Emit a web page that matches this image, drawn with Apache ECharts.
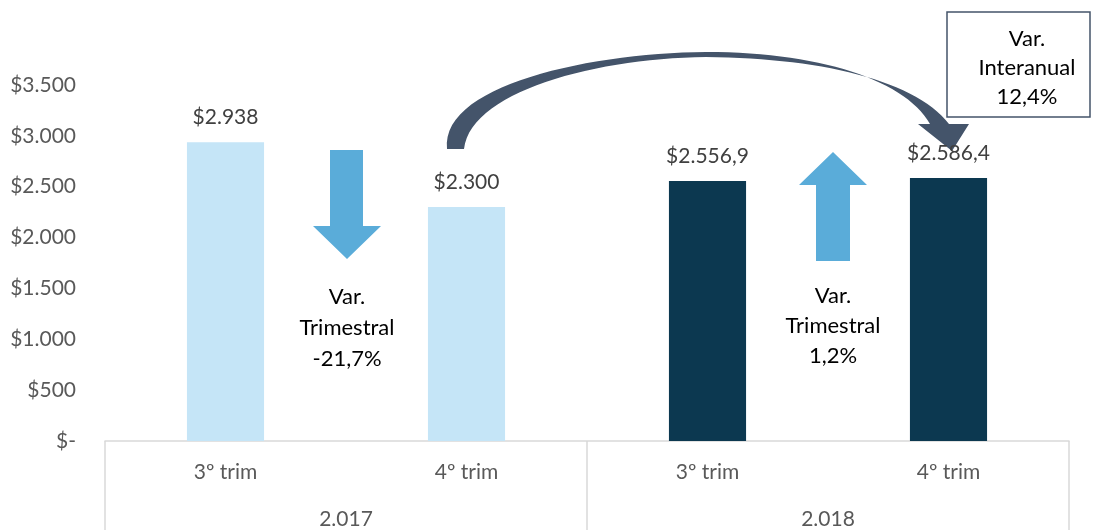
<!DOCTYPE html>
<html>
<head>
<meta charset="utf-8">
<script src="https://cdn.jsdelivr.net/npm/echarts@6/dist/echarts.min.js"></script>
<style>html,body{margin:0;padding:0;background:#fff;}#c{width:1093px;height:530px;}</style>
</head>
<body>
<div id="c"></div>
<script>
var quarters = ['3º trim', '4º trim', '3º trim', '4º trim'];
var years = ['2.017', '2.018'];
var values = [2938, 2300, 2556.9, 2586.4];
var barColors = ['#C5E5F7', '#C5E5F7', '#0C3850', '#0C3850'];

var FONT = 'Lato';
function fmtThousands(v) {
  var neg = v < 0; v = Math.abs(v);
  var intPart = Math.floor(v);
  var dec = Math.round((v - intPart) * 10);
  var s = String(intPart).replace(/\B(?=(\d{3})+(?!\d))/g, '.');
  if (dec) s += ',' + dec;
  return (neg ? '-' : '') + s;
}
function cubic(p0, p1, p2, p3, n) {
  var pts = [];
  for (var i = 0; i <= n; i++) {
    var t = i / n, u = 1 - t;
    pts.push([u*u*u*p0[0] + 3*u*u*t*p1[0] + 3*u*t*t*p2[0] + t*t*t*p3[0],
              u*u*u*p0[1] + 3*u*u*t*p1[1] + 3*u*t*t*p2[1] + t*t*t*p3[1]]);
  }
  return pts;
}
var curvePts = []
  .concat(cubic([447,149],[440,85],[590,53],[706,52], 30))
  .concat(cubic([706,52],[820,52],[905,80],[930,124], 30))
  .concat([[918,124],[952,151],[969,124],[949,124]])
  .concat(cubic([949,124],[915,80],[820,58],[706,57], 30))
  .concat(cubic([706,57],[595,58],[470,92],[464,149], 30));

var chart = echarts.init(document.getElementById('c'), null, {renderer: 'canvas'});
var option = {
  animation: false,
  grid: {left: 105, right: 24, top: 85, bottom: 87, containLabel: false},
  xAxis: [{
    type: 'category', data: quarters, position: 'bottom',
    axisLine: {show: true, lineStyle: {color: '#D9D9D9', width: 1.5}},
    axisTick: {show: false},
    axisLabel: {margin: 21, fontFamily: FONT, fontSize: 21, color: '#595959'}
  }, {
    type: 'category', data: years, position: 'bottom',
    axisLine: {show: false},
    axisTick: {show: true, length: 90, interval: 0, lineStyle: {color: '#D9D9D9', width: 1.5}},
    axisLabel: {margin: 68, fontFamily: FONT, fontSize: 21, color: '#595959'}
  }],
  yAxis: {
    type: 'value', min: 0, max: 3500, interval: 500,
    axisLine: {show: false}, axisTick: {show: false}, splitLine: {show: false},
    axisLabel: {margin: 29, fontFamily: FONT, fontSize: 21, color: '#595959',
      formatter: function (v) { return v === 0 ? '$-' : '$' + fmtThousands(v); }}
  },
  series: [{
    type: 'bar', xAxisIndex: 0, barWidth: '32%',
    data: values.map(function (v, i) { return {value: v, itemStyle: {color: barColors[i]}}; }),
    label: {show: true, position: 'top', distance: 14, fontFamily: FONT, fontSize: 21, color: '#404040',
      formatter: function (p) { return '$' + fmtThousands(p.value); }}
  }],
  graphic: [
    {type: 'polygon', shape: {points: [[330,150],[363,150],[363,226],[381,226],[347,259],[313,226],[330,226]]},
     style: {fill: '#5AACD9'}},
    {type: 'text', x: 347, y: 328, style: {text: 'Var.\nTrimestral\n-21,7%', fill: '#000', font: '22px ' + FONT,
      align: 'center', verticalAlign: 'middle', lineHeight: 31}},
    {type: 'polygon', shape: {points: [[833,152],[867,185],[850,185],[850,261],[816,261],[816,185],[799,185]]},
     style: {fill: '#5AACD9'}},
    {type: 'text', x: 833, y: 326, style: {text: 'Var.\nTrimestral\n1,2%', fill: '#000', font: '22px ' + FONT,
      align: 'center', verticalAlign: 'middle', lineHeight: 30}},
    {type: 'polygon', shape: {points: curvePts}, style: {fill: '#44546A'}},
    {type: 'rect', shape: {x: 947, y: 12, width: 143, height: 105},
     style: {fill: '#fff', stroke: '#44546A', lineWidth: 1.5}},
    {type: 'text', x: 1027, y: 68, style: {text: 'Var.\nInteranual\n12,4%', fill: '#000', font: '22px ' + FONT,
      align: 'center', verticalAlign: 'middle', lineHeight: 29}}
  ]
};
chart.setOption(option);
</script>
</body>
</html>
